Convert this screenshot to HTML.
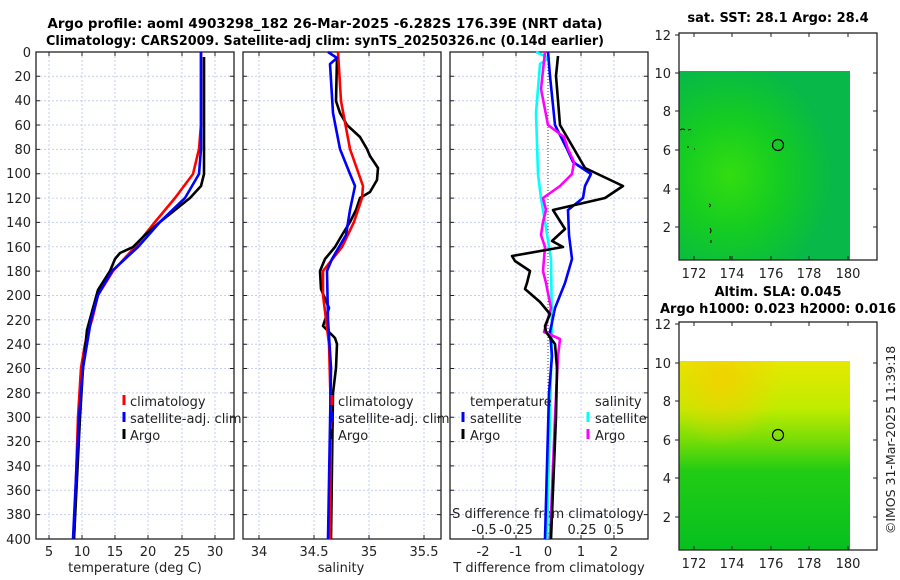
<!DOCTYPE html>
<html><head><meta charset="utf-8"><style>
body{margin:0;background:#fff;width:900px;height:580px;overflow:hidden}
svg{display:block;font-family:"DejaVu Sans","Liberation Sans",sans-serif}
.t{font-size:13px;fill:#222}
.b{font-weight:bold;font-size:13px;fill:#000}
.g{stroke:#c6cff2;stroke-width:1;stroke-dasharray:2,2}
.ax{fill:none;stroke:#222;stroke-width:1.3}
.l{fill:none;stroke-width:2.6;stroke-linejoin:round}
</style></head><body>
<svg width="900" height="580" viewBox="0 0 900 580">
<text class="b" x="325" y="28" text-anchor="middle" textLength="555" lengthAdjust="spacingAndGlyphs">Argo profile: aoml 4903298_182 26-Mar-2025 -6.282S 176.39E (NRT data)</text>
<text class="b" x="325" y="45" text-anchor="middle" textLength="558" lengthAdjust="spacingAndGlyphs">Climatology: CARS2009. Satellite-adj clim: synTS_20250326.nc (0.14d earlier)</text>

<g class="g">
<path d="M36 76.3H234M36 100.7H234M36 125H234M36 149.4H234M36 173.7H234M36 198.1H234M36 222.4H234M36 246.8H234M36 271.1H234M36 295.5H234M36 319.8H234M36 344.2H234M36 368.5H234M36 392.9H234M36 417.2H234M36 441.6H234M36 465.9H234M36 490.3H234M36 514.6H234"/>
<path d="M243 76.3H441M243 100.7H441M243 125H441M243 149.4H441M243 173.7H441M243 198.1H441M243 222.4H441M243 246.8H441M243 271.1H441M243 295.5H441M243 319.8H441M243 344.2H441M243 368.5H441M243 392.9H441M243 417.2H441M243 441.6H441M243 465.9H441M243 490.3H441M243 514.6H441"/>
<path d="M450 76.3H648M450 100.7H648M450 125H648M450 149.4H648M450 173.7H648M450 198.1H648M450 222.4H648M450 246.8H648M450 271.1H648M450 295.5H648M450 319.8H648M450 344.2H648M450 368.5H648M450 392.9H648M450 417.2H648M450 441.6H648M450 465.9H648M450 490.3H648M450 514.6H648"/>
<path d="M49 52V539M82 52V539M115 52V539M148 52V539M182 52V539M215 52V539"/>
<path d="M259 52V539M314 52V539M369 52V539M424 52V539"/>
<path d="M483 52V539M516 52V539M581 52V539M614 52V539"/>
</g>
<rect class="ax" x="36" y="52" width="198" height="487"/>
<rect class="ax" x="243" y="52" width="198" height="487"/>
<rect class="ax" x="450" y="52" width="198" height="487"/>
<g stroke="#222" stroke-width="1">
<path d="M36 76.3h4M36 100.7h4M36 125h4M36 149.4h4M36 173.7h4M36 198.1h4M36 222.4h4M36 246.8h4M36 271.1h4M36 295.5h4M36 319.8h4M36 344.2h4M36 368.5h4M36 392.9h4M36 417.2h4M36 441.6h4M36 465.9h4M36 490.3h4M36 514.6h4"/>
<path d="M243 76.3h4M243 100.7h4M243 125h4M243 149.4h4M243 173.7h4M243 198.1h4M243 222.4h4M243 246.8h4M243 271.1h4M243 295.5h4M243 319.8h4M243 344.2h4M243 368.5h4M243 392.9h4M243 417.2h4M243 441.6h4M243 465.9h4M243 490.3h4M243 514.6h4"/>
<path d="M450 76.3h4M450 100.7h4M450 125h4M450 149.4h4M450 173.7h4M450 198.1h4M450 222.4h4M450 246.8h4M450 271.1h4M450 295.5h4M450 319.8h4M450 344.2h4M450 368.5h4M450 392.9h4M450 417.2h4M450 441.6h4M450 465.9h4M450 490.3h4M450 514.6h4"/>
<path d="M234 76.3h-4M234 100.7h-4M234 125h-4M234 149.4h-4M234 173.7h-4M234 198.1h-4M234 222.4h-4M234 246.8h-4M234 271.1h-4M234 295.5h-4M234 319.8h-4M234 344.2h-4M234 368.5h-4M234 392.9h-4M234 417.2h-4M234 441.6h-4M234 465.9h-4M234 490.3h-4M234 514.6h-4"/>
<path d="M441 76.3h-4M441 100.7h-4M441 125h-4M441 149.4h-4M441 173.7h-4M441 198.1h-4M441 222.4h-4M441 246.8h-4M441 271.1h-4M441 295.5h-4M441 319.8h-4M441 344.2h-4M441 368.5h-4M441 392.9h-4M441 417.2h-4M441 441.6h-4M441 465.9h-4M441 490.3h-4M441 514.6h-4"/>
<path d="M648 76.3h-4M648 100.7h-4M648 125h-4M648 149.4h-4M648 173.7h-4M648 198.1h-4M648 222.4h-4M648 246.8h-4M648 271.1h-4M648 295.5h-4M648 319.8h-4M648 344.2h-4M648 368.5h-4M648 392.9h-4M648 417.2h-4M648 441.6h-4M648 465.9h-4M648 490.3h-4M648 514.6h-4"/>
<path d="M49 52v4M82 52v4M115 52v4M148 52v4M182 52v4M215 52v4M49 539v-4M82 539v-4M115 539v-4M148 539v-4M182 539v-4M215 539v-4"/>
<path d="M259 52v4M314 52v4M369 52v4M424 52v4M259 539v-4M314 539v-4M369 539v-4M424 539v-4"/>
<path d="M483 52v4M516 52v4M548 52v4M581 52v4M614 52v4M483 539v-4M516 539v-4M548 539v-4M581 539v-4M614 539v-4"/>
</g>
<g class="t" text-anchor="end">
<text x="31" y="57">0</text><text x="31" y="81">20</text><text x="31" y="105">40</text><text x="31" y="130">60</text><text x="31" y="154">80</text><text x="31" y="178">100</text><text x="31" y="203">120</text><text x="31" y="227">140</text><text x="31" y="252">160</text><text x="31" y="276">180</text><text x="31" y="300">200</text><text x="31" y="325">220</text><text x="31" y="349">240</text><text x="31" y="373">260</text><text x="31" y="398">280</text><text x="31" y="422">300</text><text x="31" y="446">320</text><text x="31" y="471">340</text><text x="31" y="495">360</text><text x="31" y="519">380</text><text x="31" y="544">400</text>
</g>
<g class="t" text-anchor="middle">
<text x="49" y="556">5</text><text x="82" y="556">10</text><text x="115" y="556">15</text><text x="148" y="556">20</text><text x="182" y="556">25</text><text x="215" y="556">30</text>
<text x="135" y="572">temperature (deg C)</text>
<text x="259" y="556">34</text><text x="314" y="556">34.5</text><text x="369" y="556">35</text><text x="424" y="556">35.5</text>
<text x="341" y="572">salinity</text>
<text x="483" y="556">-2</text><text x="516" y="556">-1</text><text x="548" y="556">0</text><text x="581" y="556">1</text><text x="614" y="556">2</text>
<text x="549" y="572">T difference from climatology</text>
<text x="548" y="518">S difference from climatology</text>
<text x="484" y="534">-0.5</text><text x="516" y="534">-0.25</text><text x="548" y="534">0</text><text x="582" y="534">0.25</text><text x="614" y="534">0.5</text>
</g>

<polyline class="l" stroke="#f00" points="201,52 201,125 199,149 193,174 175,198 155,222 135,247 113,271 98,295 92,320 88,332 85,344 81,368 78,417 74,539"/>
<polyline class="l" stroke="#000" points="204,57 204,174 201,186 190,198 175,210 160,222 145,235 133,247 120,253 115,259 110,271 98,290 93,308 87,330 83,368 80,417 74,539"/>
<polyline class="l" stroke="#00f" points="201,52 201,149 199,174 185,198 160,222 138,247 112,271 98,295 91,320 87,344 83,368 79,417 73,539"/>
<polyline class="l" stroke="#000" points="337,57 336,101 340,113 347,125 360,137 367,149 370,156 378,168 377,180 370,192 360,198 356,210 350,222 342,235 335,247 325,259 320,271 321,289 329,308 323,326 335,338 337,344 336,368 333,393 331,539"/>
<polyline class="l" stroke="#f00" points="338,52 341,101 350,149 363,186 362,198 354,222 342,247 323,271 323,295 329,344 331,417 330,539"/>
<polyline class="l" stroke="#00f" points="328,52 337,58 330,64 333,113 340,149 350,174 355,186 350,210 346,235 332,259 327,271 328,320 331,368 328,539"/>
<line x1="548" y1="52" x2="548" y2="539" stroke="#444" stroke-dasharray="1,2"/>
<polyline class="l" stroke="#0ff" points="536,52 549,58 540,64 536,113 538,174 541,198 545,222 551,259 552,332 547,539"/>
<polyline class="l" stroke="#00f" points="548,52 550,76 555,125 567,149 573,162 591,174 585,186 583,198 568,210 569,235 572,259 565,283 555,308 550,332 552,356 549,393 545,539"/>
<polyline class="l" stroke="#f0f" points="545,52 541,89 548,125 564,137 568,149 574,162 572,174 560,186 543,198 546,210 543,222 541,235 545,247 543,271 546,283 551,308 544,332 560,339 558,356 555,417 550,539"/>
<polyline class="l" stroke="#000" points="558,56 556,76 560,125 574,149 585,168 623,186 605,198 553,210 565,229 552,241 563,247 512,256 515,261 530,271 527,283 525,289 540,302 550,314 545,326 546,332 555,344 557,368 556,417 551,539"/>

<g class="t">
<text x="130" y="406">climatology</text><text x="130" y="423">satellite-adj. clim</text><text x="130" y="440">Argo</text>
<text x="338" y="406">climatology</text><text x="338" y="423">satellite-adj. clim</text><text x="338" y="440">Argo</text>
<text x="470" y="406">temperature</text><text x="470" y="423">satellite</text><text x="470" y="440">Argo</text>
<text x="595" y="406">salinity</text><text x="595" y="423">satellite</text><text x="595" y="440">Argo</text>
</g>
<g stroke-width="3">
<line x1="124" y1="395" x2="124" y2="405" stroke="#f00"/><line x1="124" y1="412" x2="124" y2="422" stroke="#00f"/><line x1="124" y1="429" x2="124" y2="439" stroke="#000"/>
<line x1="332" y1="395" x2="332" y2="405" stroke="#f00"/><line x1="332" y1="412" x2="332" y2="422" stroke="#00f"/><line x1="332" y1="429" x2="332" y2="439" stroke="#000"/>
<line x1="463" y1="412" x2="463" y2="422" stroke="#00f"/><line x1="463" y1="429" x2="463" y2="439" stroke="#000"/>
<line x1="588" y1="412" x2="588" y2="422" stroke="#0ff"/><line x1="588" y1="429" x2="588" y2="439" stroke="#f0f"/>
</g>

<defs>
<radialGradient id="m1" cx="0.3" cy="0.55" r="0.6">
<stop offset="0" stop-color="#33dd10"/><stop offset="0.5" stop-color="#14cc22"/><stop offset="1" stop-color="#08b848"/>
</radialGradient>
<linearGradient id="m2" x1="0" y1="0" x2="0" y2="1">
<stop offset="0" stop-color="#e6e800"/><stop offset="0.25" stop-color="#c0ec00"/><stop offset="0.42" stop-color="#77dd06"/><stop offset="0.58" stop-color="#22cc14"/><stop offset="1" stop-color="#06c020"/>
</linearGradient>
<radialGradient id="y2" cx="0.25" cy="0.1" r="0.35">
<stop offset="0" stop-color="#f2d000" stop-opacity="0.9"/><stop offset="1" stop-color="#f2d000" stop-opacity="0"/>
</radialGradient>
</defs>
<text class="b" x="778" y="22" text-anchor="middle">sat. SST: 28.1 Argo: 28.4</text>
<rect x="679" y="71" width="171" height="189" fill="url(#m1)"/>
<rect class="ax" x="679" y="33" width="198" height="227"/>
<circle cx="778" cy="145" r="5.5" fill="none" stroke="#000" stroke-width="1.2"/>
<g fill="none" stroke="#000" stroke-width="1">
<path d="M680 130q3-2 5 0M688 130q2-1 3 0M688 146v2M694 149h1M709 204q3 1 0 3M710 228q2 3 0 5M711 240v3M730 256v3"/>
<path d="M680 420q3-2 5 0M688 420q2-1 3 0M688 436v2M694 439h1M709 494q3 1 0 3M710 518q2 3 0 5M711 530v3M730 546v3"/>
</g>
<text class="b" x="778" y="296" text-anchor="middle">Altim. SLA: 0.045</text>
<text class="b" x="778" y="313" text-anchor="middle" textLength="236" lengthAdjust="spacingAndGlyphs">Argo h1000: 0.023 h2000: 0.016</text>
<rect x="679" y="361" width="171" height="189" fill="url(#m2)"/>
<rect x="679" y="361" width="171" height="189" fill="url(#y2)"/>
<rect class="ax" x="679" y="322" width="198" height="228"/>
<circle cx="778" cy="435" r="5.5" fill="none" stroke="#000" stroke-width="1.2"/>
<g stroke="#222"><path d="M679 35h-4M679 73h-4M679 111h-4M679 150h-4M679 189h-4M679 227h-4M877 73h-4M877 111h-4M877 150h-4M877 189h-4M877 227h-4M694 260v-4M732 260v-4M771 260v-4M809 260v-4M848 260v-4M694 33v4M732 33v4M771 33v4M809 33v4M848 33v4"/>
<path d="M679 324h-4M679 363h-4M679 401h-4M679 440h-4M679 478h-4M679 517h-4M877 363h-4M877 401h-4M877 440h-4M877 478h-4M877 517h-4M694 550v-4M732 550v-4M771 550v-4M809 550v-4M848 550v-4M694 322v4M732 322v4M771 322v4M809 322v4M848 322v4"/></g>
<g class="t" text-anchor="end">
<text x="671" y="40">12</text><text x="671" y="78">10</text><text x="671" y="116">8</text><text x="671" y="155">6</text><text x="671" y="194">4</text><text x="671" y="232">2</text>
<text x="671" y="329">12</text><text x="671" y="368">10</text><text x="671" y="406">8</text><text x="671" y="445">6</text><text x="671" y="483">4</text><text x="671" y="522">2</text>
</g>
<g class="t" text-anchor="middle">
<text x="694" y="278">172</text><text x="732" y="278">174</text><text x="771" y="278">176</text><text x="809" y="278">178</text><text x="848" y="278">180</text>
<text x="694" y="568">172</text><text x="732" y="568">174</text><text x="771" y="568">176</text><text x="809" y="568">178</text><text x="848" y="568">180</text>
</g>
<text class="t" transform="translate(895,440) rotate(-90)" text-anchor="middle" style="font-size:12.5px">©IMOS 31-Mar-2025 11:39:18</text>
</svg>
</body></html>
